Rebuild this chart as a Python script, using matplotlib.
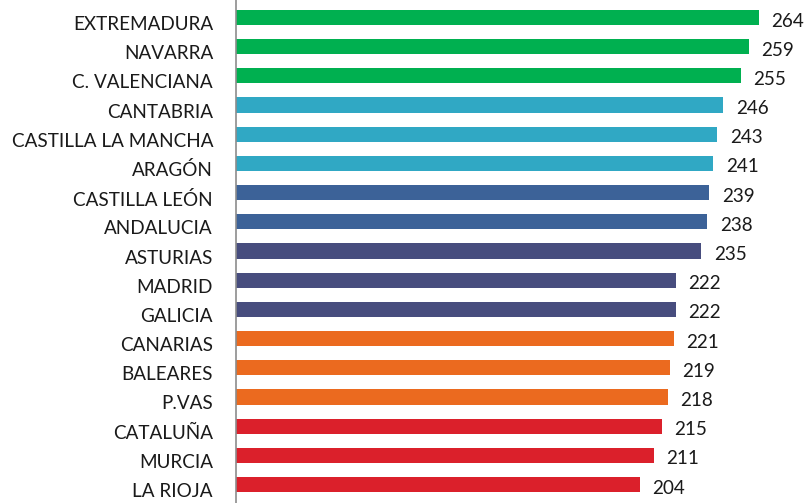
import matplotlib
matplotlib.use("Agg")
import matplotlib.pyplot as plt
from matplotlib.transforms import offset_copy

regions = ["EXTREMADURA", "NAVARRA", "C. VALENCIANA", "CANTABRIA", "CASTILLA LA MANCHA",
           "ARAGÓN", "CASTILLA LEÓN", "ANDALUCIA", "ASTURIAS", "MADRID", "GALICIA",
           "CANARIAS", "BALEARES", "P.VAS", "CATALUÑA", "MURCIA", "LA RIOJA"]
values = [264, 259, 255, 246, 243, 241, 239, 238, 235, 222, 222, 221, 219, 218, 215, 211, 204]
groups = [0, 0, 0, 1, 1, 1, 2, 2, 3, 3, 3, 4, 4, 4, 5, 5, 5]
palette = ["#00B050", "#30A8C4", "#3C6298", "#474D7E", "#EB6A1F", "#DB202B"]

W, H = 807, 503
fig = plt.figure(figsize=(W / 100, H / 100), dpi=100)
left = 235.5 / W
ax = fig.add_axes([left, 0, 1 - left, 1])

colors = [palette[g] for g in groups]
pos = list(range(len(regions)))
ax.barh(pos, values, height=0.52, color=colors, zorder=2)

pitch = 29.19
px_per_unit = (759 - 235.5) / 264
ax.set_xlim(0, (W - 235.5) / px_per_unit)
ax.set_ylim((H - 17.5) / pitch, -17.5 / pitch)

font = ["Lato", "DejaVu Sans"]
fs = 13.6
num_tr = offset_copy(ax.transData, fig=fig, x=12.5, y=-3.5, units="dots")
for p, v in zip(pos, values):
    ax.text(v, p, str(v), va="center", ha="left", transform=num_tr,
            fontsize=fs, color="#1a1a1a", family=font)

lab_tr = offset_copy(ax.get_yaxis_transform(), fig=fig, x=-22.5, y=-7, units="dots")
for p, r in zip(pos, regions):
    ax.text(0, p, r, va="center", ha="right", transform=lab_tr,
            fontsize=fs, color="#1a1a1a", family=font, clip_on=False)

ax.set_yticks([])
ax.set_xticks([])
for s in ["top", "right", "bottom"]:
    ax.spines[s].set_visible(False)
ax.spines["left"].set_color("#8c8c8c")
ax.spines["left"].set_linewidth(1.2)

fig.savefig("out.png", dpi=100)
